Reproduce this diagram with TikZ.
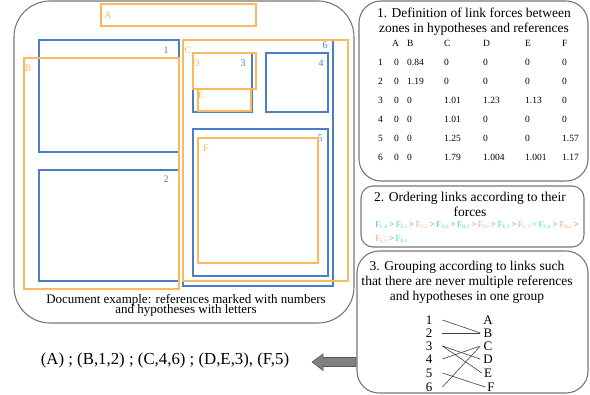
\documentclass[tikz,border=0pt]{standalone}
\usepackage{fontspec}
\setmainfont{Liberation Serif}

\definecolor{refblue}{RGB}{76,126,200}
\definecolor{hypor}{RGB}{250,184,96}
\definecolor{panelgray}{RGB}{120,120,120}
\definecolor{keepgreen}{RGB}{62,222,172}
\definecolor{dropsalmon}{RGB}{250,168,128}
\definecolor{arrowgray}{RGB}{128,128,128}

% link force terms: kept links in green, discarded ones in salmon
\newcommand{\fkeep}[1]{\textcolor{keepgreen}{F\textsubscript{\fontsize{5}{5}\selectfont #1}}}
\newcommand{\fdrop}[1]{\textcolor{dropsalmon}{F\textsubscript{\fontsize{5}{5}\selectfont #1}}}
\newcommand{\gtsep}{\,\textcolor{panelgray}{>}\,}

\begin{document}
\begin{tikzpicture}[x=1pt,y=-1pt,
  panel/.style={draw=panelgray, line width=1.1pt},
  refzone/.style={draw=refblue, line width=1.4pt},
  hypzone/.style={draw=hypor, line width=1.4pt},
  reflabel/.style={text=refblue, font=\fontsize{10}{12}\selectfont, inner sep=0pt},
  hyplabel/.style={text=hypor, font=\fontsize{10}{12}\selectfont, inner sep=0pt},
  title/.style={font=\fontsize{13.5}{15}\selectfont, align=center, inner sep=0pt},
  cell/.style={font=\fontsize{9.5}{10}\selectfont, anchor=west, inner sep=0pt},
  grp/.style={font=\fontsize{13}{13}\selectfont, inner sep=0pt},
  link/.style={draw=black!75, line width=0.6pt}]
\useasboundingbox (0,0) rectangle (590,395);

% ---------- document example ----------
\draw[panel, rounded corners=36pt] (14,1) rectangle (354,323);

\draw[hypzone] (101,4) rectangle (256,26);
\node[hyplabel] (lA) at (108,15) {A};

\draw[refzone] (39,40) rectangle (179,152);
\node[reflabel] (l1) at (166,50) {1};
\draw[refzone] (39,170) rectangle (179,281);
\node[reflabel] (l2) at (166,179) {2};
\draw[hypzone] (24,58) rectangle (179,289);
\node[hyplabel] (lB) at (28,68) {B};

\draw[refzone] (183,40) rectangle (333,286);
\node[reflabel] (l6) at (325,45) {6};
\draw[hypzone] (183,40) rectangle (348,281);
\node[hyplabel] (lC) at (188,50) {C};

\draw[refzone] (193,53) rectangle (252,112);
\node[reflabel] (l3) at (243,63) {3};
\draw[hypzone] (193,53) rectangle (256,89);
\node[hyplabel] (lD) at (196,63) {D};
\draw[hypzone] (198,89) rectangle (251,111);
\node[hyplabel] (lE) at (201,95) {E};

\draw[refzone] (266,53) rectangle (328,112);
\node[reflabel] (l4) at (321,63) {4};

\draw[refzone] (193,129) rectangle (328,276);
\node[reflabel] (l5) at (320,138) {5};
\draw[hypzone] (198,138) rectangle (318,263);
\node[hyplabel] (lF) at (206,148) {F};

\node[font=\fontsize{13}{13}\selectfont, align=center, inner sep=0pt] (caption) at (186,305)
  {Document example: references marked with numbers\\[-3pt]and hypotheses with letters};

% ---------- 1. link forces ----------
\draw[panel, rounded corners=22pt] (359,1) rectangle (588,181);
\node[title] (t1) at (474,22) {1. Definition of link forces between\\zones in hypotheses and references};

\foreach \name/\x in {A/392,B/407,C/444,D/483,E/525,F/562}
  \node[cell] (h\name) at (\x,43) {\name};
\foreach \y/\r/\va/\vb/\vc/\vd/\ve/\vf in {
    62/1/0/0.84/0/0/0/0,
    81/2/0/1.19/0/0/0/0,
    100/3/0/0/1.01/1.23/1.13/0,
    119/4/0/0/1.01/0/0/0,
    138/5/0/0/1.25/0/0/1.57,
    157/6/0/0/1.79/1.004/1.001/1.17}{
  \node[cell] (r\r) at (378,\y) {\r};
  \node[cell] (c\r A) at (394,\y) {\va};
  \node[cell] (c\r B) at (407,\y) {\vb};
  \node[cell] (c\r C) at (444,\y) {\vc};
  \node[cell] (c\r D) at (483,\y) {\vd};
  \node[cell] (c\r E) at (525,\y) {\ve};
  \node[cell] (c\r F) at (562,\y) {\vf};
}

% ---------- 2. ordering ----------
\draw[panel, rounded corners=12pt] (361,186) rectangle (584,247);
\node[title] (t2) at (470,204) {2. Ordering links according to their\\forces};
\node[font=\fontsize{9}{14}\selectfont, anchor=north west, align=left, inner sep=0pt,
      text width=212pt] (order) at (375,221.5)
  {\fkeep{C,6}\gtsep\fkeep{F,5}\gtsep\fdrop{C,5}\gtsep\fkeep{D,3}\gtsep\fkeep{B,2}\gtsep\fdrop{F,6}\gtsep\fkeep{E,3}\gtsep\fdrop{C,3}\,\textcolor{keepgreen}{=}\,\fkeep{C,4}\gtsep\fdrop{D,6}\gtsep\\
   \fdrop{E,6}\gtsep\fkeep{B,1}};

% ---------- 3. grouping ----------
\draw[panel, rounded corners=22pt] (357,251) rectangle (588,393);
\node[title] (t3) at (467,282) {3. Grouping according to links such\\that there are never multiple references\\and hypotheses in one group};

\foreach \i/\y in {1/320,2/333,3/346,4/359,5/373,6/387}
  \node[grp] (n\i) at (429,\y) {\i};
\foreach \l/\y/\x in {A/320/488,B/333/488,C/346/488,D/359/488,E/373/488,F/387/491}
  \node[grp] (m\l) at (\x,\y) {\l};

\draw[link] ([xshift=10pt]n1.east) -- ([xshift=-3pt]mB.west);
\draw[link] ([xshift=10pt]n2.east) -- ([xshift=-3pt]mB.west);
\draw[link] ([xshift=10pt]n3.east) -- ([xshift=-3pt]mD.west);
\draw[link] ([xshift=10pt]n3.east) -- ([xshift=-2pt]mE.west);
\draw[link] ([xshift=10pt]n4.east) -- ([xshift=-3pt]mC.west);
\draw[link] ([xshift=10pt]n5.east) -- ([xshift=-2pt]mF.west);
\draw[link] ([xshift=10pt]n6.east) -- ([xshift=-4pt,yshift=-1pt]mC.west);

% ---------- result ----------
\node[font=\fontsize{16.8}{18}\selectfont, inner sep=0pt] (result) at (165,360)
  {(A) ; (B,1,2) ; (C,4,6) ; (D,E,3), (F,5)};

\coordinate (tip) at (312,362);
\draw[fill=arrowgray, draw=black!65, line width=0.6pt]
  (tip) -- (323,354) -- (323,357.5) -- (356,357.5) -- (356,366.5) -- (323,366.5) -- (323,370.5) -- cycle;
\end{tikzpicture}
\end{document}
